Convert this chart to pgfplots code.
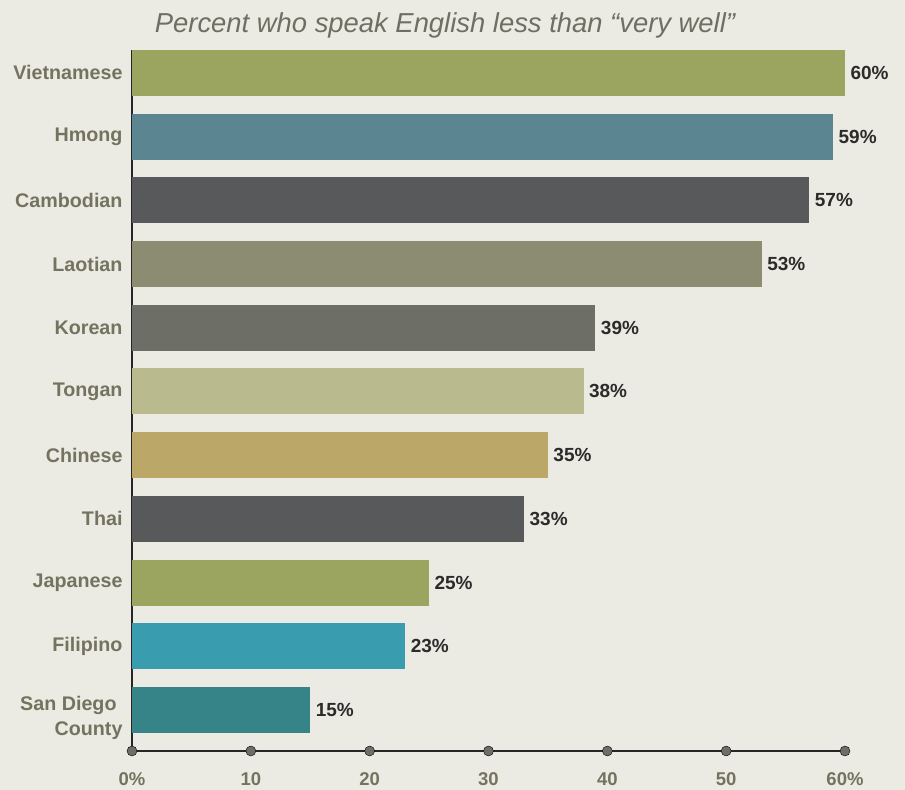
\documentclass[border=0pt]{standalone}
\usepackage{fontspec}
\setmainfont{Liberation Sans}
\usepackage{pgfplots}
\pgfplotsset{compat=1.18}
\definecolor{bg}{HTML}{ECEBE3}
\definecolor{lab}{HTML}{73735F}
\definecolor{ttl}{HTML}{6F6E62}
\definecolor{val}{HTML}{2B2B2B}
\definecolor{dotc}{HTML}{6D6E66}
\definecolor{cVie}{HTML}{9BA55F}
\definecolor{cHmo}{HTML}{5B8590}
\definecolor{cCam}{HTML}{58595B}
\definecolor{cLao}{HTML}{8B8C72}
\definecolor{cKor}{HTML}{6D6E66}
\definecolor{cTon}{HTML}{B9BB8F}
\definecolor{cChi}{HTML}{BBA868}
\definecolor{cTha}{HTML}{58595B}
\definecolor{cJap}{HTML}{9BA55F}
\definecolor{cFil}{HTML}{3A9DAF}
\definecolor{cSan}{HTML}{378488}
\pgfplotsset{
  mybar/.style={xbar, bar width=46bp, bar shift=0pt, draw=none, fill=#1,
    nodes near coords={\pgfmathprintnumber{\pgfplotspointmeta}\%},
    point meta=x,
    every node near coord/.append style={font=\fontsize{19bp}{22bp}\selectfont\bfseries, text=val, anchor=west, xshift=2bp}},
}
\begin{document}
\begin{tikzpicture}
\fill[bg] (-132bp,-39bp) rectangle (773bp,751bp);
\begin{axis}[
  at={(0,0)}, anchor=south west,
  scale only axis,
  width=713bp, height=701bp,
  xmin=0, xmax=60, ymin=-0.644, ymax=10.36,
  axis lines=left,
  axis line style={-, draw=black!85, line width=1.2pt},
  clip=false,
  /pgf/number format/assume math mode=true,
  xtick={0,10,20,30,40,50,60},
  xticklabels={0\%,10,20,30,40,50,60\%},
  ytick={1,2,3,4,5,6,7,8,9,10},
  yticklabels={Filipino,Japanese,Thai,Chinese,Tongan,Korean,Laotian,Cambodian,Hmong,Vietnamese},
  extra y ticks={0},
  extra y tick labels={San Diego\hspace*{0.3em}\\County},
  extra y tick style={yticklabel style={yshift=-8bp}},
  major tick length=0pt,
  tick style={draw=none},
  xticklabel style={font=\fontsize{18.5bp}{22bp}\selectfont\bfseries, text=lab, yshift=-18bp},
  yticklabel style={font=\fontsize{19.7bp}{25bp}\selectfont\bfseries, text=lab, align=right, xshift=-6bp},
]
\addplot[mybar=cVie] coordinates {(60,10)};
\addplot[mybar=cHmo] coordinates {(59,9)};
\addplot[mybar=cCam] coordinates {(57,8)};
\addplot[mybar=cLao] coordinates {(53,7)};
\addplot[mybar=cKor] coordinates {(39,6)};
\addplot[mybar=cTon] coordinates {(38,5)};
\addplot[mybar=cChi] coordinates {(35,4)};
\addplot[mybar=cTha] coordinates {(33,3)};
\addplot[mybar=cJap] coordinates {(25,2)};
\addplot[mybar=cFil] coordinates {(23,1)};
\addplot[mybar=cSan] coordinates {(15,0)};
\addplot[only marks, mark=*, mark size=5bp, mark options={fill=dotc, draw=none}]
  coordinates {(0,-0.644) (10,-0.644) (20,-0.644) (30,-0.644) (40,-0.644) (50,-0.644) (60,-0.644)};
\end{axis}
\node[font=\fontsize{27.4bp}{32bp}\selectfont\itshape, text=ttl] at (313bp,726bp) {Percent who speak English less than “very well”};
\pgfresetboundingbox
\path (-132bp,-39bp) rectangle (773bp,751bp);
\end{tikzpicture}
\end{document}
